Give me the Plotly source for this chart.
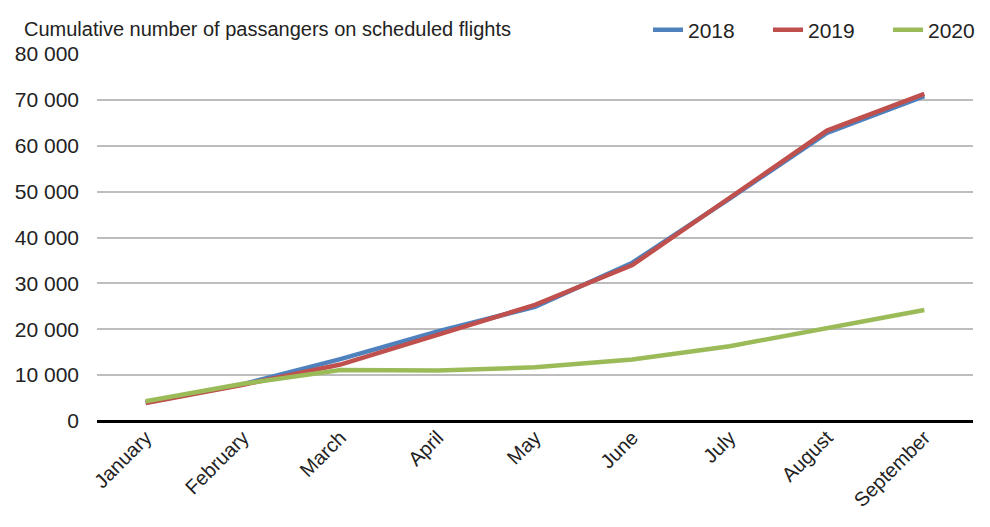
import plotly.graph_objects as go

months = ["January", "February", "March", "April", "May", "June", "July", "August", "September"]
y2018 = [4000, 8000, 13500, 19500, 24900, 34500, 48500, 62800, 70800]
y2019 = [3900, 7900, 12300, 18900, 25300, 34000, 48700, 63300, 71300]
y2020 = [4300, 8100, 11100, 11000, 11700, 13400, 16300, 20300, 24200]

series = [("2018", y2018, "#4F81BD"), ("2019", y2019, "#C0504D"), ("2020", y2020, "#9BBB59")]

FONT = "Liberation Sans, Arial, sans-serif"
W, H = 982, 519
L, R, T, B = 89, 17, 46, 106
PW, PH = W - L - R, H - T - B

fig = go.Figure()
for name, vals, col in series:
    fig.add_trace(go.Scatter(x=months, y=vals, name=name, mode="lines",
                             line=dict(color=col, width=4.5)))

fig.update_layout(
    width=W, height=H,
    margin=dict(l=L, r=R, t=T, b=B, autoexpand=False),
    paper_bgcolor="white", plot_bgcolor="white",
    font=dict(family=FONT, size=20, color="#222222"),
    separators=". ",
    showlegend=True,
    legend=dict(orientation="h", xref="container", yref="container",
                x=640 / W, xanchor="left", y=1 - 22 / H, yanchor="middle",
                entrywidth=75, entrywidthmode="pixels",
                font=dict(size=21, color="#222222"), bgcolor="rgba(0,0,0,0)",
                traceorder="normal"),
    annotations=[dict(text="Cumulative number of passangers on scheduled flights",
                      xref="paper", yref="paper", x=(14 - L) / PW, y=1, xanchor="left",
                      yanchor="bottom", yshift=12, showarrow=False,
                      font=dict(size=20, color="#222222"))],
)
fig.update_xaxes(type="category", showgrid=False, showline=False, zeroline=False,
                 tickangle=-45, ticks="", tickfont=dict(size=20, color="#222222"),
                 range=[-0.5, 8.5])
fig.update_yaxes(range=[0, 80000], dtick=10000, tickformat=",d",
                 showgrid=True, gridcolor="#BDBDBD", gridwidth=1.5,
                 zeroline=True, zerolinecolor="#000000", zerolinewidth=2.5,
                 showline=False, ticks="", ticklabelstandoff=17,
                 tickfont=dict(size=21, color="#222222"))
fig.add_shape(type="line", xref="paper", yref="paper", x0=(975 - L) / PW, x1=(975 - L) / PW,
              y0=-B / PH, y1=1 + T / PH, line=dict(color="#D9D9D9", width=1))

fig.write_html("out.html")
